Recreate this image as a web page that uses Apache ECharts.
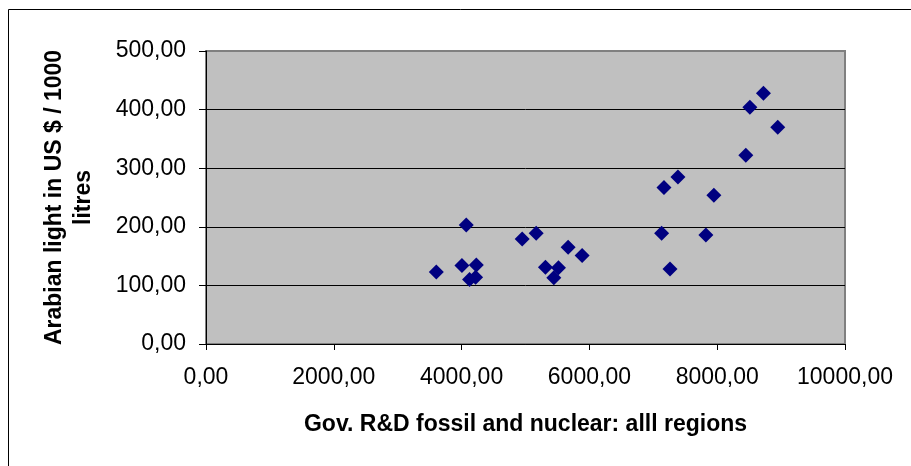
<!DOCTYPE html>
<html>
<head>
<meta charset="utf-8">
<script src="https://cdn.jsdelivr.net/npm/echarts@6/dist/echarts.min.js"></script>
<style>
html,body{margin:0;padding:0;background:#fff;}
#chart{width:911px;height:466px;}
</style>
</head>
<body>
<div id="chart"></div>
<script>
// Gov. R&D fossil and nuclear (all regions)
const govRD = [3604, 4073, 4005, 4230, 4125, 4219, 4948, 5167, 5312, 5516, 5443, 5667, 5886,
               8724, 8511, 8948, 8448, 7386, 7167, 7948, 7130, 7823, 7261];
// Arabian light price, US $ / 1000 litres
const arabianLight = [123, 203, 134, 135, 110, 114, 179, 189, 131, 130, 113, 165, 151,
                      428, 404, 370, 322, 285, 267, 254, 189, 186, 128];
const xTitle = 'Gov. R&D fossil and nuclear: alll regions';
const yTitle = 'Arabian light in US $ / 1000\nlitres';

const points = govRD.map((x, i) => [x, arabianLight[i]]);
const fmt = v => v.toFixed(2).replace('.', ',');
const FONT = "'Liberation Sans', Arial, sans-serif";

const chart = echarts.init(document.getElementById('chart'), null, {renderer: 'canvas'});
chart.setOption({
  animation: false,
  backgroundColor: '#ffffff',
  textStyle: {fontFamily: FONT},
  graphic: [{
    type: 'rect',
    shape: {x: 8.5, y: 9.5, width: 930, height: 480},
    style: {fill: 'none', stroke: '#000', lineWidth: 1},
    silent: true
  }],
  grid: {
    left: 206, top: 51, right: 66, bottom: 122,
    show: true, backgroundColor: '#c0c0c0', borderColor: '#808080', borderWidth: 2
  },
  xAxis: {
    type: 'value', min: 0, max: 10000, interval: 2000,
    name: xTitle, nameLocation: 'middle', nameGap: 69,
    nameTextStyle: {fontFamily: FONT, fontSize: 23, fontWeight: 'bold', color: '#000'},
    axisLine: {show: true, lineStyle: {color: '#000', width: 1}},
    axisTick: {show: true, length: 6, lineStyle: {color: '#000'}},
    axisLabel: {formatter: fmt, fontFamily: FONT, fontSize: 23, color: '#000', margin: 22},
    splitLine: {show: false}
  },
  yAxis: {
    type: 'value', min: 0, max: 500, interval: 100,
    name: yTitle, nameLocation: 'middle', nameRotate: 90, nameGap: 108,
    nameTextStyle: {fontFamily: FONT, fontSize: 23, fontWeight: 'bold', color: '#000', lineHeight: 29, align: 'center'},
    axisLine: {show: true, lineStyle: {color: '#000', width: 1}},
    axisTick: {show: true, length: 7, lineStyle: {color: '#000'}},
    axisLabel: {formatter: fmt, fontFamily: FONT, fontSize: 23, color: '#000', margin: 20},
    splitLine: {show: true, lineStyle: {color: ['#000', '#000', '#000', '#000', '#000', '#808080'], width: 1}}
  },
  series: [{
    type: 'scatter',
    data: points,
    symbol: 'diamond',
    symbolSize: 15,
    itemStyle: {color: '#000080', opacity: 1}
  }]
});
</script>
</body>
</html>
